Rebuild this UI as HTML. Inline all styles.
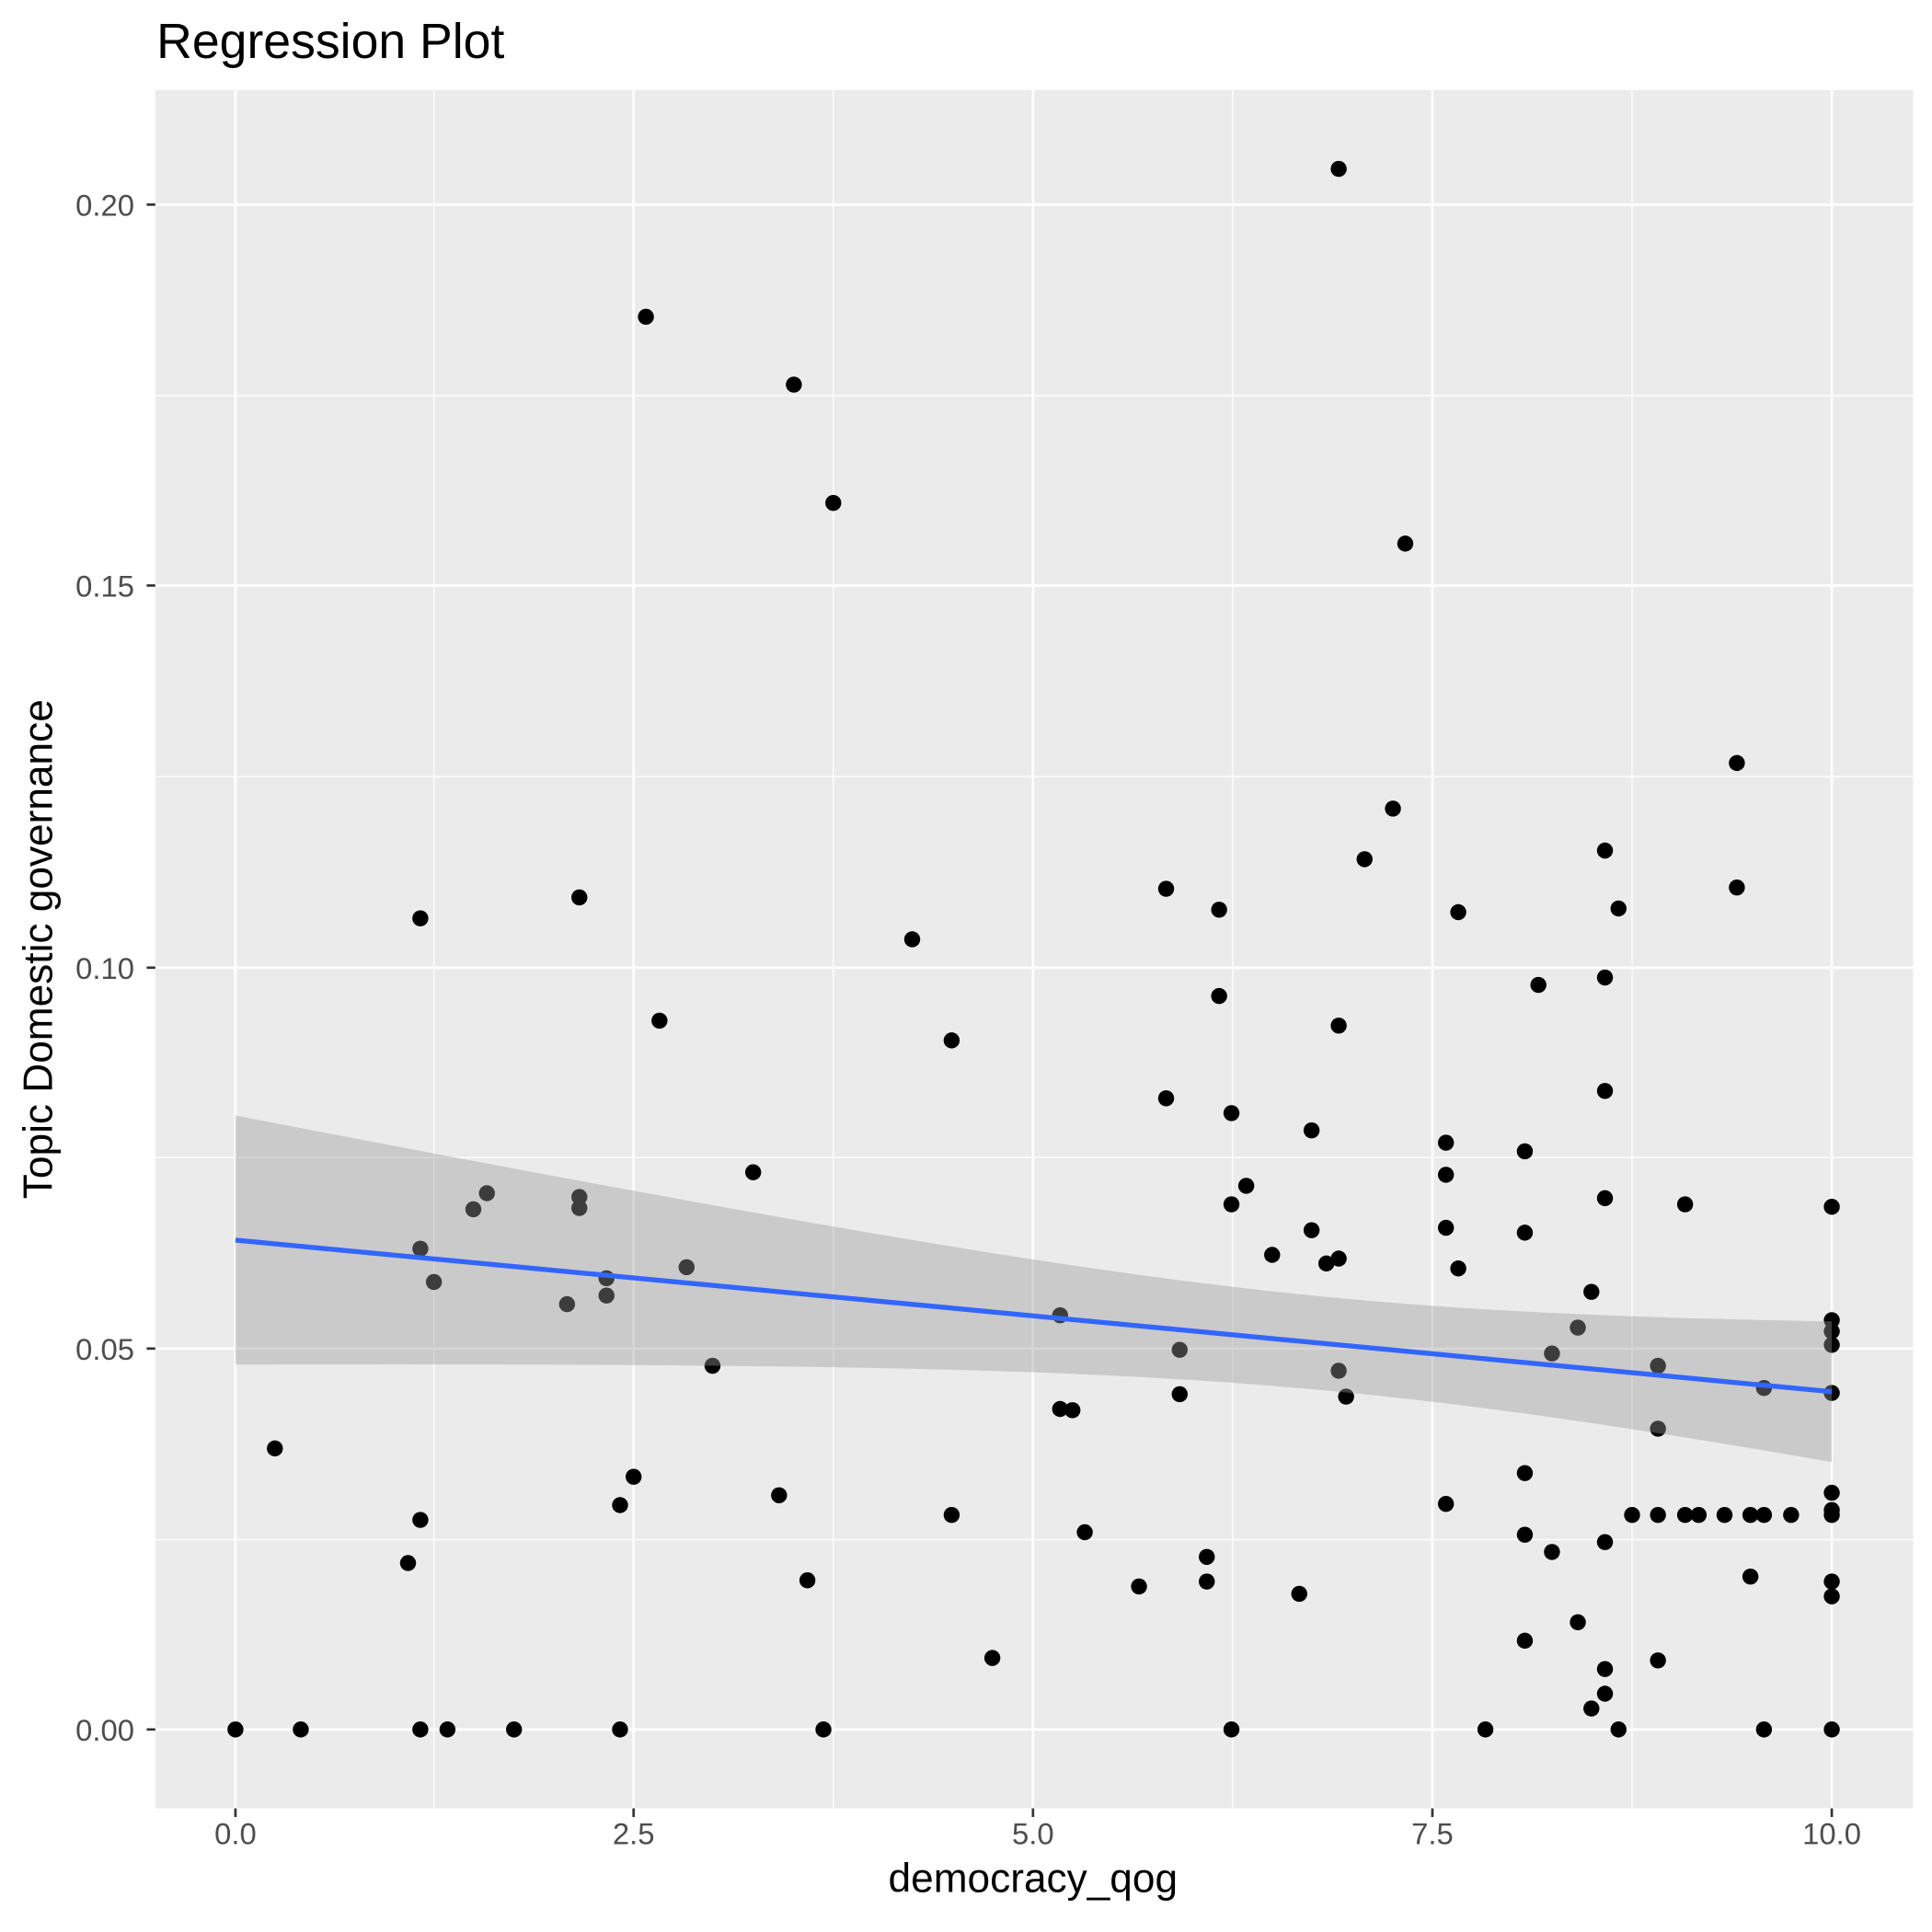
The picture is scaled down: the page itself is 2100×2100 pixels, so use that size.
<!DOCTYPE html><html><head><style>body{margin:0;background:#fff}svg{display:block}text{font-family:"Liberation Sans",sans-serif}</style></head><body>
<svg id="s" width="2100" height="2100" viewBox="0 0 1567.3 1567.3" xmlns="http://www.w3.org/2000/svg">
<rect width="1570" height="1570" fill="#fff"/>
<rect x="126" y="73" width="1426" height="1394" fill="#ebebeb"/>
<g stroke="#fff" stroke-width="1">
<line x1="352" y1="73" x2="352" y2="1467"/><line x1="676" y1="73" x2="676" y2="1467"/><line x1="1000" y1="73" x2="1000" y2="1467"/><line x1="1324" y1="73" x2="1324" y2="1467"/>
<line x1="126" y1="1249" x2="1552" y2="1249"/><line x1="126" y1="939" x2="1552" y2="939"/><line x1="126" y1="630" x2="1552" y2="630"/><line x1="126" y1="321" x2="1552" y2="321"/>
</g>
<g stroke="#fff" stroke-width="2">
<line x1="191" y1="73" x2="191" y2="1467"/><line x1="514" y1="73" x2="514" y2="1467"/><line x1="838" y1="73" x2="838" y2="1467"/><line x1="1162" y1="73" x2="1162" y2="1467"/><line x1="1486" y1="73" x2="1486" y2="1467"/>
<line x1="126" y1="1403" x2="1552" y2="1403"/><line x1="126" y1="1094" x2="1552" y2="1094"/><line x1="126" y1="785" x2="1552" y2="785"/><line x1="126" y1="475" x2="1552" y2="475"/><line x1="126" y1="166" x2="1552" y2="166"/>
</g>
<g id="pts"></g>
<path id="rib" fill="#999" fill-opacity="0.4"/>
<line x1="191" y1="1006" x2="1486" y2="1129" stroke="#3366ff" stroke-width="4"/>
<g stroke="#333" stroke-width="2">
<line x1="191" y1="1467" x2="191" y2="1474"/><line x1="514" y1="1467" x2="514" y2="1474"/><line x1="838" y1="1467" x2="838" y2="1474"/><line x1="1162" y1="1467" x2="1162" y2="1474"/><line x1="1486" y1="1467" x2="1486" y2="1474"/>
<line x1="119" y1="1403" x2="126" y2="1403"/><line x1="119" y1="1094" x2="126" y2="1094"/><line x1="119" y1="785" x2="126" y2="785"/><line x1="119" y1="475" x2="126" y2="475"/><line x1="119" y1="166" x2="126" y2="166"/>
</g>
<g fill="#4d4d4d" font-size="24.5" text-anchor="middle">
<text x="191" y="1496">0.0</text><text x="514" y="1496">2.5</text><text x="838" y="1496">5.0</text><text x="1162" y="1496">7.5</text><text x="1486" y="1496">10.0</text>
</g>
<g fill="#4d4d4d" font-size="24.5" text-anchor="end">
<text x="109" y="1412">0.00</text><text x="109" y="1103">0.05</text><text x="109" y="794">0.10</text><text x="109" y="484">0.15</text><text x="109" y="175">0.20</text>
</g>
<text x="838" y="1535" font-size="33" text-anchor="middle">democracy_qog</text>
<text transform="translate(42,770) rotate(-90)" font-size="33" text-anchor="middle">Topic Domestic governance</text>
<text x="127" y="47" font-size="40">Regression Plot</text>
</svg>
<script>
var P=[[191,1403],[244,1403],[341,1403],[363,1403],[417,1403],[503,1403],[668,1403],[999,1403],[1205,1403],[1313,1403],[1431,1403],[1486,1403],[1086,137],[524,257],[644,312],[676,408],[1140,441],[1409,619],[1130,656],[1302,690],[1107,697],[470,728],[946,721],[1409,720],[341,745],[989,738],[1183,740],[1313,737],[740,762],[1248,799],[1302,793],[989,808],[535,828],[1086,832],[772,844],[946,891],[1302,885],[999,903],[1064,917],[1173,927],[1237,934],[611,951],[1173,953],[1011,962],[395,968],[384,981],[470,971],[470,980],[999,977],[1367,977],[1302,972],[1486,979],[1064,998],[1173,996],[1237,1000],[1032,1018],[1076,1025],[1086,1021],[341,1013],[352,1040],[557,1028],[1183,1029],[492,1037],[492,1051],[460,1058],[1291,1048],[860,1067],[1486,1071],[1486,1080],[1486,1091],[1280,1077],[957,1095],[1259,1098],[578,1108],[1345,1108],[1086,1112],[1431,1126],[957,1131],[1092,1133],[1486,1130],[860,1143],[870,1144],[1345,1159],[223,1175],[514,1198],[1237,1195],[632,1213],[1486,1211],[503,1221],[1173,1220],[341,1233],[772,1229],[1324,1229],[1345,1229],[1367,1229],[1378,1229],[1399,1229],[1420,1229],[1431,1229],[1453,1229],[1486,1229],[1486,1225],[1237,1245],[880,1243],[1302,1251],[1259,1259],[979,1263],[331,1268],[655,1282],[979,1283],[1420,1279],[1486,1283],[924,1287],[1054,1293],[1486,1295],[1280,1316],[1237,1331],[805,1345],[1345,1347],[1302,1354],[1302,1374],[1291,1386]];
var g=document.getElementById('pts'),h='';
P.forEach(function(p){h+='<circle cx="'+p[0]+'" cy="'+p[1]+'" r="6.5" fill="#000"/>';});
g.innerHTML=h;
var up=[],lo=[];
for(var x=191;x<=1486;x+=5){var c=1006+(x-191)*123/1295;var hw=Math.sqrt(1444+0.01106*(x-1081)*(x-1081));up.push(x+','+(c-hw).toFixed(1));lo.unshift(x+','+(c+hw).toFixed(1));}
var c=1129,hw=Math.sqrt(1444+0.01106*405*405);up.push('1486,'+(c-hw).toFixed(1));lo.unshift('1486,'+(c+hw).toFixed(1));
document.getElementById('rib').setAttribute('d','M'+up.join(' L')+' L'+lo.join(' L')+'Z');
</script>
</body></html>
